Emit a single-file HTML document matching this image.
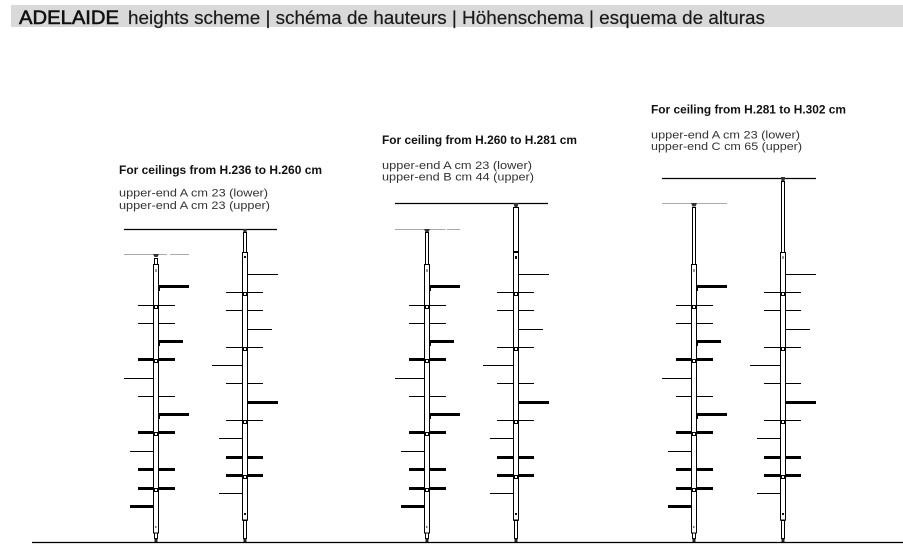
<!DOCTYPE html>
<html>
<head>
<meta charset="utf-8">
<style>
html,body{margin:0;padding:0;background:#fff;}
svg{display:block;}
</style>
</head>
<body>
<svg width="903" height="559" viewBox="0 0 903 559" xmlns="http://www.w3.org/2000/svg">
<rect x="0" y="0" width="903" height="559" fill="#fff"/>
<!-- header -->
<rect x="11" y="5" width="892" height="22" fill="#d9d9d9"/>
<text x="19" y="24" font-family="Liberation Sans, sans-serif" font-size="19.5" fill="#111" stroke="#111" stroke-width="0.6" textLength="100" lengthAdjust="spacingAndGlyphs">ADELAIDE</text>
<text x="128" y="24" font-family="Liberation Sans, sans-serif" font-size="18.5" fill="#1a1a1a" stroke="#1a1a1a" stroke-width="0.2" textLength="637" lengthAdjust="spacingAndGlyphs">heights scheme | schéma de hauteurs | Höhenschema | esquema de alturas</text>

<!-- titles -->
<g font-family="Liberation Sans, sans-serif">
<text x="119" y="174" font-size="11.5" font-weight="bold" fill="#111" textLength="203" lengthAdjust="spacingAndGlyphs">For ceilings from H.236 to H.260 cm</text>
<text x="119" y="196.5" font-size="11" fill="#333" textLength="149" lengthAdjust="spacingAndGlyphs">upper-end A cm 23 (lower)</text>
<text x="119" y="209" font-size="11" fill="#333" textLength="151" lengthAdjust="spacingAndGlyphs">upper-end A cm 23 (upper)</text>

<text x="382" y="144" font-size="11.5" font-weight="bold" fill="#111" textLength="195" lengthAdjust="spacingAndGlyphs">For ceiling from H.260 to H.281 cm</text>
<text x="382" y="169" font-size="11" fill="#333" textLength="150" lengthAdjust="spacingAndGlyphs">upper-end A cm 23 (lower)</text>
<text x="382" y="180.7" font-size="11" fill="#333" textLength="152" lengthAdjust="spacingAndGlyphs">upper-end B cm 44 (upper)</text>

<text x="651" y="113.5" font-size="11.5" font-weight="bold" fill="#111" textLength="195" lengthAdjust="spacingAndGlyphs">For ceiling from H.281 to H.302 cm</text>
<text x="651" y="138.5" font-size="11" fill="#333" textLength="149" lengthAdjust="spacingAndGlyphs">upper-end A cm 23 (lower)</text>
<text x="651" y="150.2" font-size="11" fill="#333" textLength="151" lengthAdjust="spacingAndGlyphs">upper-end C cm 65 (upper)</text>
</g>

<!-- floor -->
<line x1="32" y1="542.5" x2="903" y2="542.5" stroke="#000" stroke-width="1.2"/>

<defs>
<g id="common">
  <g stroke="#000" fill="none">
    <line x1="159" y1="286.5" x2="189" y2="286.5" stroke-width="3"/>
    <line x1="138" y1="305.5" x2="175" y2="305.5" stroke-width="1"/>
    <line x1="138" y1="323.5" x2="175" y2="323.5" stroke-width="1"/>
    <line x1="159" y1="341.5" x2="183" y2="341.5" stroke-width="3"/>
    <line x1="138" y1="359.5" x2="175" y2="359.5" stroke-width="3"/>
    <line x1="124" y1="378.5" x2="155" y2="378.5" stroke-width="1"/>
    <line x1="138" y1="396.5" x2="175" y2="396.5" stroke-width="1"/>
    <line x1="159" y1="414.5" x2="189" y2="414.5" stroke-width="3"/>
    <line x1="138" y1="432.5" x2="175" y2="432.5" stroke-width="3"/>
    <line x1="130" y1="451.5" x2="155" y2="451.5" stroke-width="1"/>
    <line x1="138" y1="469.5" x2="175" y2="469.5" stroke-width="3"/>
    <line x1="138" y1="488.5" x2="175" y2="488.5" stroke-width="3"/>
    <line x1="130" y1="506.5" x2="155" y2="506.5" stroke-width="3"/>
  </g>
  <g stroke="#000" fill="none">
    <line x1="246" y1="274.5" x2="278" y2="274.5" stroke-width="1"/>
    <line x1="226" y1="292.5" x2="263" y2="292.5" stroke-width="1"/>
    <line x1="226" y1="310.5" x2="263" y2="310.5" stroke-width="1"/>
    <line x1="246" y1="329.5" x2="272" y2="329.5" stroke-width="1"/>
    <line x1="226" y1="347.5" x2="263" y2="347.5" stroke-width="1"/>
    <line x1="212" y1="365.5" x2="244" y2="365.5" stroke-width="1"/>
    <line x1="226" y1="383.5" x2="263" y2="383.5" stroke-width="1"/>
    <line x1="246" y1="402.5" x2="278" y2="402.5" stroke-width="3"/>
    <line x1="226" y1="420.5" x2="263" y2="420.5" stroke-width="1"/>
    <line x1="219" y1="438.5" x2="244" y2="438.5" stroke-width="1"/>
    <line x1="226" y1="457.5" x2="263" y2="457.5" stroke-width="3"/>
    <line x1="226" y1="475.5" x2="263" y2="475.5" stroke-width="3"/>
    <line x1="219" y1="493.5" x2="244" y2="493.5" stroke-width="1"/>
  </g>
  <g stroke="#000" stroke-width="1" fill="#fff">
    <rect x="153.5" y="264.5" width="5" height="268.5"/>
    <rect x="154.5" y="533" width="3" height="5.5"/>
    <rect x="242.5" y="252.5" width="5" height="267.5"/>
    <rect x="243.5" y="520" width="3" height="18.5"/>
  </g>
  <rect x="154.5" y="538.5" width="3" height="3.5" fill="#222"/>
  <rect x="243.5" y="538.5" width="3" height="3.5" fill="#222"/>
  <g stroke="#000" stroke-width="1">
    <line x1="159.5" y1="286" x2="159.5" y2="291"/>
    <line x1="159.5" y1="341" x2="159.5" y2="346"/>
    <line x1="159.5" y1="414" x2="159.5" y2="419"/>
    <line x1="153.5" y1="378" x2="153.5" y2="382"/>
    <line x1="153.5" y1="451" x2="153.5" y2="455"/>
    <line x1="153.5" y1="506" x2="153.5" y2="510"/>
    <line x1="247.5" y1="274" x2="247.5" y2="278"/>
    <line x1="247.5" y1="329" x2="247.5" y2="333"/>
  </g>
  <g stroke="#000" stroke-width="1" fill="#fff">
    <rect x="154.5" y="305.5" width="3" height="3"/>
    <rect x="154.5" y="359.5" width="3" height="3"/>
    <rect x="154.5" y="432.5" width="3" height="3"/>
    <rect x="154.5" y="488.5" width="3" height="3"/>
    <rect x="243.5" y="292.5" width="3" height="3"/>
    <rect x="243.5" y="347.5" width="3" height="3"/>
    <rect x="243.5" y="420.5" width="3" height="3"/>
    <rect x="243.5" y="475.5" width="3" height="3"/>
  </g>
  <rect x="155" y="526" width="1.5" height="2" fill="#777"/>
  <rect x="244" y="513" width="2" height="2" fill="#111"/>
  <line x1="242.5" y1="520.5" x2="247.5" y2="520.5" stroke="#000" stroke-width="1"/>
</g>
</defs>

<!-- GROUP 1 -->
<g>
  <line x1="124" y1="229.5" x2="277" y2="229.5" stroke="#000" stroke-width="1.2"/>
  <line x1="124" y1="254.5" x2="167" y2="254.5" stroke="#aaa" stroke-width="1"/>
  <line x1="170" y1="254.5" x2="189" y2="254.5" stroke="#aaa" stroke-width="1"/>
  <use href="#common"/>
  <rect x="154.5" y="258.5" width="3" height="6" fill="#fff" stroke="#000"/>
  <path d="M153 254 L159 254 L157.5 257 L154.5 257 Z" fill="#333"/>
  <rect x="155.5" y="269" width="1" height="3" fill="#333"/>
  <rect x="243.5" y="232.5" width="3" height="20" fill="#fff" stroke="#000"/>
  <path d="M243 229 L247 229 L246.5 232 L243.5 232 Z" fill="#333"/>
  <rect x="244" y="256" width="2" height="2" fill="#111"/>
</g>

<!-- GROUP 2 -->
<g transform="translate(271,0)">
  <line x1="124" y1="203.5" x2="277" y2="203.5" stroke="#000" stroke-width="1.2"/>
  <line x1="124" y1="229.5" x2="174.5" y2="229.5" stroke="#aaa" stroke-width="1"/>
  <line x1="176" y1="229.5" x2="189" y2="229.5" stroke="#aaa" stroke-width="1"/>
  <use href="#common"/>
  <rect x="154.5" y="232.5" width="3" height="32" fill="#fff" stroke="#000"/>
  <path d="M153 229 L159 229 L157.5 232 L154.5 232 Z" fill="#333"/>
  <rect x="155.5" y="269" width="1" height="3" fill="#333"/>
  <rect x="242.5" y="207.5" width="5" height="45" fill="#fff" stroke="#000"/>
  <line x1="242.5" y1="251.5" x2="247.5" y2="251.5" stroke="#000"/>
  <path d="M242.5 203 L247.5 203 L246.5 207 L243.5 207 Z" fill="#333"/>
  <rect x="244" y="256" width="2" height="3" fill="#111"/>
</g>

<!-- GROUP 3 -->
<g transform="translate(538,0)">
  <line x1="124" y1="178.5" x2="278" y2="178.5" stroke="#000" stroke-width="1.2"/>
  <line x1="124" y1="203.5" x2="189" y2="203.5" stroke="#aaa" stroke-width="1"/>
  <use href="#common"/>
  <rect x="154.5" y="207.5" width="3" height="57" fill="#fff" stroke="#000"/>
  <path d="M153 203 L159 203 L157.5 206.5 L154.5 206.5 Z" fill="#333"/>
  <rect x="155.5" y="269" width="1" height="3" fill="#333"/>
  <rect x="243.5" y="181.5" width="3" height="71" fill="#fff" stroke="#000"/>
  <path d="M243 177 L247 177 L246.5 181 L243.5 181 Z" fill="#333"/>
  <rect x="244.5" y="256" width="1" height="3" fill="#333"/>
</g>
</svg>
</body>
</html>
